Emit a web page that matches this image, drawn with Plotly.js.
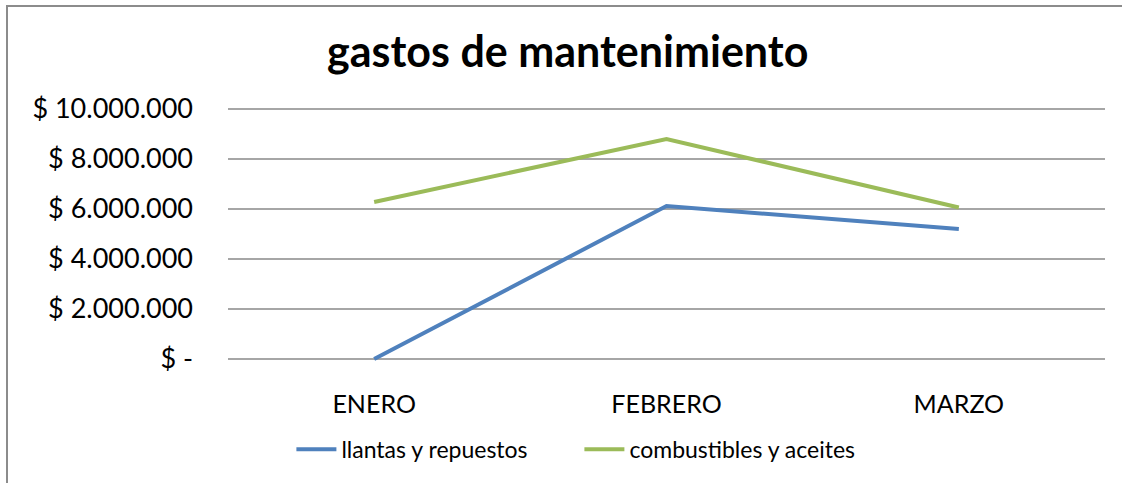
<!DOCTYPE html>
<html>
<head>
<meta charset="utf-8">
<script src="https://cdn.plot.ly/plotly-3.0.1.min.js"></script>
<style>
html,body{margin:0;padding:0;background:#fff;overflow:hidden;}
#frame{position:absolute;left:6px;top:5px;width:1200px;height:600px;border:2px solid #8c8c8c;box-sizing:border-box;}
#chart{position:absolute;left:0;top:0;width:1122px;height:483px;}
</style>
</head>
<body>
<div id="frame"></div>
<div id="chart"></div>
<script>
const categories = ["ENERO", "FEBRERO", "MARZO"];
const llantas = [0, 6120000, 5200000];
const combustibles = [6280000, 8800000, 6060000];
const tickVals = [0, 2000000, 4000000, 6000000, 8000000, 10000000];
const tickText = ["$ -", "$ 2.000.000", "$ 4.000.000", "$ 6.000.000", "$ 8.000.000", "$ 10.000.000"];
const font = "Lato, 'Open Sans', sans-serif";

const data = [
  {x: categories, y: llantas, type: "scatter", mode: "lines", name: "llantas y repuestos",
   line: {color: "#4F81BD", width: 4}},
  {x: categories, y: combustibles, type: "scatter", mode: "lines", name: "combustibles y aceites",
   line: {color: "#9BBB59", width: 4}}
];
const layout = {
  width: 1122, height: 483,
  paper_bgcolor: "rgba(0,0,0,0)", plot_bgcolor: "rgba(0,0,0,0)",
  margin: {l: 228, r: 17, t: 106, b: 121},
  font: {family: font, color: "#000"},
  title: {text: "<b>gastos de mantenimiento</b>", font: {family: font, size: 43, color: "#000"},
          xref: "container", x: 0.506, xanchor: "center", yref: "container", y: 0.892, yanchor: "middle"},
  xaxis: {type: "category", range: [-0.5, 2.5], showgrid: false, zeroline: false, showline: false,
          ticks: "", tickfont: {size: 25}, ticklabelstandoff: 25},
  yaxis: {range: [-120000, 10120000], tickvals: tickVals, ticktext: tickText, showgrid: true,
          gridcolor: "#a6a6a6", gridwidth: 1.5, zeroline: false, showline: false, ticks: "",
          tickfont: {size: 27}, ticklabelstandoff: 34},
  showlegend: true,
  legend: {orientation: "h", xref: "container", yref: "container", x: 0.5164, xanchor: "center",
           y: 0.07, yanchor: "middle", font: {size: 23}, itemwidth: 40, tracegroupgap: 0,
           entrywidth: 233, entrywidthmode: "pixels", bgcolor: "rgba(0,0,0,0)"}
};
Plotly.newPlot("chart", data, layout, {displayModeBar: false});
</script>
</body>
</html>
